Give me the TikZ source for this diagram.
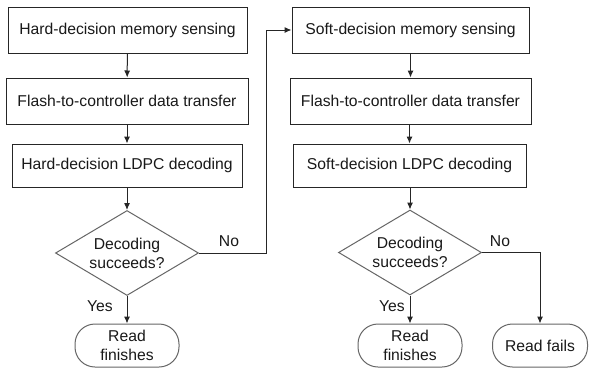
\documentclass[tikz,border=0pt]{standalone}
\usepackage{fontspec}
\setmainfont{Liberation Sans}
\usetikzlibrary{shapes.geometric,arrows.meta}
\begin{document}
\begin{tikzpicture}[x=1pt,y=-1pt,
  every node/.style={font=\fontsize{15.7}{19}\selectfont, text=black!90},
  procbox/.style={draw=black!85, line width=1pt, rectangle, inner sep=0pt},
  decbox/.style={draw=black!60, line width=1pt, diamond, aspect=1.68, inner sep=0pt, minimum width=143pt, minimum height=85pt, align=center},
  termbox/.style={draw=black!60, line width=1pt, rectangle, rounded corners=20pt, inner sep=0pt, minimum width=104pt, minimum height=43pt, align=center},
  arr/.style={draw=black!85, line width=1pt, -{Latex[length=7pt,width=6pt]}},
  lbl/.style={inner sep=0pt}]
\useasboundingbox (0,0) rectangle (592,370);
\fill[white] (0,0) rectangle (592,370);
% left column
\node[procbox, minimum width=239pt, minimum height=46pt] (b1) at (127.5,30) {Hard-decision memory sensing};
\node[procbox, minimum width=242pt, minimum height=46pt] (b2) at (127,101) {Flash-to-controller data transfer};
\node[procbox, minimum width=230pt, minimum height=43pt] (b3) at (127,165.5) {Hard-decision LDPC decoding};
\node[decbox] (d1) at (127,253) {Decoding\\succeeds?};
\node[termbox] (t1) at (127,345.5) {Read\\finishes};
% right column
\node[procbox, minimum width=237pt, minimum height=46pt] (b4) at (410.5,30) {Soft-decision memory sensing};
\node[procbox, minimum width=241pt, minimum height=46pt] (b5) at (410.5,101) {Flash-to-controller data transfer};
\node[procbox, minimum width=233pt, minimum height=43pt] (b6) at (409.5,165.5) {Soft-decision LDPC decoding};
\node[decbox] (d2) at (410,252.5) {Decoding\\succeeds?};
\node[termbox] (t2) at (410,345.5) {Read\\finishes};
\node[termbox, minimum width=95pt] (f) at (540,345.5) {Read fails};
\coordinate (c1) at (266,253);
% connectors
\draw[arr] (b1) -- (b2);
\draw[arr] (b2) -- (b3);
\draw[arr] (b3) -- (d1);
\draw[arr] (d1) -- (t1);
\draw[arr] (d1.east) -- (c1) |- (b4.west);
\draw[arr] (b4) -- (b5);
\draw[arr] (b5.south -| b6) -- (b6);
\draw[arr] (b6.south -| d2) -- (d2);
\draw[arr] (d2) -- (t2);
\draw[arr] (d2.east) -| (f.north);
% labels
\node[lbl] (n1) at (229,241) {No};
\node[lbl] (y1) at (100,306) {Yes};
\node[lbl] (n2) at (500,241) {No};
\node[lbl] (y2) at (392,306) {Yes};
\end{tikzpicture}
\end{document}
